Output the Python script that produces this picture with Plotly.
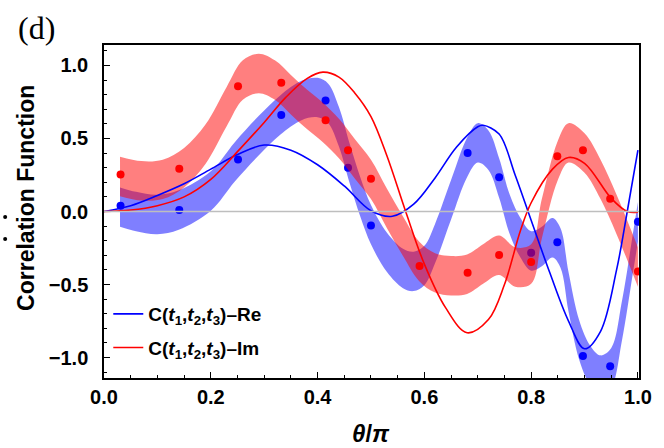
import plotly.graph_objects as go

# ---- measured points ----
theta_pts_re = [0.031, 0.141, 0.251, 0.332, 0.415, 0.457, 0.500, 0.681, 0.740, 0.800, 0.849, 0.897, 0.948, 1.000]
re_pts = [0.04, 0.01, 0.356, 0.66, 0.76, 0.30, -0.096, 0.40, 0.235, -0.283, -0.21, -0.99, -1.06, -0.07]

theta_pts_im = [0.031, 0.141, 0.251, 0.332, 0.415, 0.457, 0.500, 0.591, 0.681, 0.740, 0.800, 0.849, 0.897, 0.948, 1.000]
im_pts = [0.253, 0.292, 0.858, 0.881, 0.625, 0.42, 0.224, -0.374, -0.42, -0.297, -0.345, 0.379, 0.42, 0.087, -0.41]

# ---- fitted bands (centre curve and half-width) ----
theta_band_re = [0.03, 0.06, 0.10, 0.14, 0.20, 0.245, 0.29, 0.33, 0.37, 0.40, 0.42, 0.44, 0.46, 0.48,
                 0.50, 0.53, 0.56, 0.58, 0.60, 0.62, 0.65, 0.68, 0.70, 0.72, 0.74, 0.76, 0.78, 0.80,
                 0.82, 0.84, 0.855, 0.87, 0.89, 0.91, 0.93, 0.95, 0.97, 0.99, 1.00]
re_band = [0.03, 0.00, -0.02, 0.01, 0.14, 0.34, 0.52, 0.66, 0.76, 0.78, 0.74, 0.58, 0.33, 0.10,
           -0.09, -0.28, -0.39, -0.41, -0.37, -0.22, 0.08, 0.37, 0.47, 0.42, 0.23, -0.02, -0.18, -0.27,
           -0.24, -0.18, -0.25, -0.55, -0.88, -1.05, -1.12, -1.07, -0.75, -0.30, -0.07]
re_half = 0.135

theta_band_im = [0.03, 0.07, 0.11, 0.15, 0.19, 0.23, 0.26, 0.29, 0.32, 0.35, 0.38, 0.41, 0.44, 0.47,
                 0.50, 0.53, 0.56, 0.59, 0.62, 0.65, 0.68, 0.71, 0.74, 0.77, 0.80, 0.82, 0.85, 0.87,
                 0.90, 0.93, 0.96, 1.00]
im_band = [0.24, 0.21, 0.22, 0.30, 0.46, 0.72, 0.90, 0.945, 0.90, 0.80, 0.70, 0.61, 0.50, 0.36,
           0.22, 0.02, -0.17, -0.34, -0.42, -0.44, -0.43, -0.36, -0.30, -0.38, -0.36, -0.05, 0.35, 0.47,
           0.40, 0.22, -0.02, -0.38]
im_half = 0.135

# ---- theory curves ----
theta_th_re = [0.00, 0.05, 0.10, 0.15, 0.20, 0.25, 0.30, 0.35, 0.40, 0.45, 0.50, 0.54, 0.58, 0.62,
               0.66, 0.70, 0.71, 0.74, 0.77, 0.80, 0.835, 0.87, 0.90, 0.93, 0.96, 0.98, 1.00]
re_theory = [0.00, 0.04, 0.11, 0.19, 0.29, 0.39, 0.455, 0.42, 0.32, 0.175, 0.005, -0.033, 0.05, 0.23,
             0.44, 0.58, 0.59, 0.53, 0.25, -0.06, -0.42, -0.75, -0.94, -0.82, -0.40, 0.0, 0.42]

theta_th_im = [0.00, 0.05, 0.10, 0.15, 0.20, 0.25, 0.30, 0.34, 0.38, 0.41, 0.44, 0.47, 0.50, 0.53,
               0.565, 0.60, 0.64, 0.68, 0.72, 0.75, 0.78, 0.80, 0.84, 0.87, 0.90, 0.95, 0.98, 1.00]
im_theory = [0.00, 0.01, 0.04, 0.10, 0.22, 0.41, 0.61, 0.78, 0.91, 0.954, 0.92, 0.81, 0.65, 0.38,
             0.0, -0.36, -0.66, -0.83, -0.74, -0.50, -0.13, 0.06, 0.29, 0.37, 0.33, 0.09, 0.0, -0.005]

x_ticks = [0.0, 0.2, 0.4, 0.6, 0.8, 1.0]
y_ticks = [-1.0, -0.5, 0.0, 0.5, 1.0]

BLUE = "rgb(0,0,255)"
RED = "rgb(255,0,0)"
BLUE_BAND = "rgba(0,0,255,0.5)"
RED_BAND = "rgba(255,0,0,0.5)"
SANS = "Liberation Sans"

fig = go.Figure()


def add_band(theta, centre, half, colour):
    fig.add_trace(go.Scatter(x=theta, y=[c + half for c in centre], mode="lines",
                             line=dict(width=0, shape="spline", color=colour),
                             showlegend=False, hoverinfo="skip"))
    fig.add_trace(go.Scatter(x=theta, y=[c - half for c in centre], mode="lines",
                             line=dict(width=0, shape="spline", color=colour),
                             fill="tonexty", fillcolor=colour,
                             showlegend=False, hoverinfo="skip"))


add_band(theta_band_re, re_band, re_half, BLUE_BAND)
fig.add_trace(go.Scatter(x=theta_pts_re, y=re_pts, mode="markers",
                         marker=dict(color=BLUE, size=8), showlegend=False))
add_band(theta_band_im, im_band, im_half, RED_BAND)
fig.add_trace(go.Scatter(x=theta_pts_im, y=im_pts, mode="markers",
                         marker=dict(color=RED, size=8), showlegend=False))

label = "C(<i>t</i><sub>1</sub>,<i>t</i><sub>2</sub>,<i>t</i><sub>3</sub>)–{}"
fig.add_trace(go.Scatter(x=theta_th_re, y=re_theory, mode="lines",
                         line=dict(color=BLUE, width=1.6, shape="spline"),
                         name=label.format("Re"), legend="legend"))
fig.add_trace(go.Scatter(x=theta_th_im, y=im_theory, mode="lines",
                         line=dict(color=RED, width=1.6, shape="spline"),
                         name=label.format("Im"), legend="legend2"))

axis_common = dict(
    showgrid=False, zeroline=False, showline=True, linecolor="black", linewidth=1.5,
    mirror=True, ticks="inside", ticklen=6, tickwidth=1.2, tickcolor="black",
    tickfont=dict(family=SANS, size=20, color="black", weight="bold"),
)

legend_font = dict(family=SANS, size=19, color="black", weight="bold")

fig.update_layout(
    width=664, height=448,
    margin=dict(l=104, r=19, t=45, b=70),
    paper_bgcolor="white", plot_bgcolor="white",
    xaxis=dict(range=[0, 1.002], tickvals=x_ticks, ticktext=[f"{v:.1f}" for v in x_ticks],
               minor=dict(dtick=0.05, ticks="inside", ticklen=3, tickcolor="black"),
               ticklabelstandoff=0, **axis_common),
    yaxis=dict(range=[-1.14, 1.14], tickvals=y_ticks,
               ticktext=[f"{v:.1f}".replace("-", "−") for v in y_ticks],
               minor=dict(dtick=0.1, ticks="inside", ticklen=3, tickcolor="black"),
               ticklabelstandoff=10, **axis_common),
    legend=dict(x=0.008, y=0.192, xanchor="left", yanchor="middle", bgcolor="rgba(0,0,0,0)",
                font=legend_font),
    legend2=dict(x=0.008, y=0.091, xanchor="left", yanchor="middle", bgcolor="rgba(0,0,0,0)",
                 font=legend_font),
    shapes=[
        dict(type="line", xref="x domain", x0=0, x1=1, yref="y", y0=0, y1=0,
             line=dict(color="rgb(190,190,190)", width=1.5), layer="above"),
        dict(type="circle", xref="paper", yref="paper", x0=-0.1885, x1=-0.181,
             y0=(378 - 219) / 333, y1=(378 - 215) / 333,
             fillcolor="black", line=dict(width=0)),
        dict(type="circle", xref="paper", yref="paper", x0=-0.1885, x1=-0.181,
             y0=(378 - 241) / 333, y1=(378 - 237) / 333,
             fillcolor="black", line=dict(width=0)),
    ],
    annotations=[
        dict(text="<b>Correlation Function</b>", xref="paper", yref="paper",
             x=(25 - 104) / 541, y=(378 - 198) / 333, textangle=-90, showarrow=False,
             font=dict(family=SANS, size=23, color="black"), xanchor="center", yanchor="middle"),
        dict(text="<b><i>θ</i>/<i>π</i></b>", xref="paper", yref="paper",
             x=0.499, y=(378 - 433) / 333, showarrow=False,
             font=dict(family=SANS, size=24, color="black"), xanchor="center", yanchor="middle"),
        dict(text="(d)", xref="paper", yref="paper",
             x=(36 - 104) / 541, y=(378 - 28) / 333, showarrow=False,
             font=dict(family="Liberation Serif", size=32, color="black"),
             xanchor="center", yanchor="middle"),
    ],
)

fig.write_html("out.html")
